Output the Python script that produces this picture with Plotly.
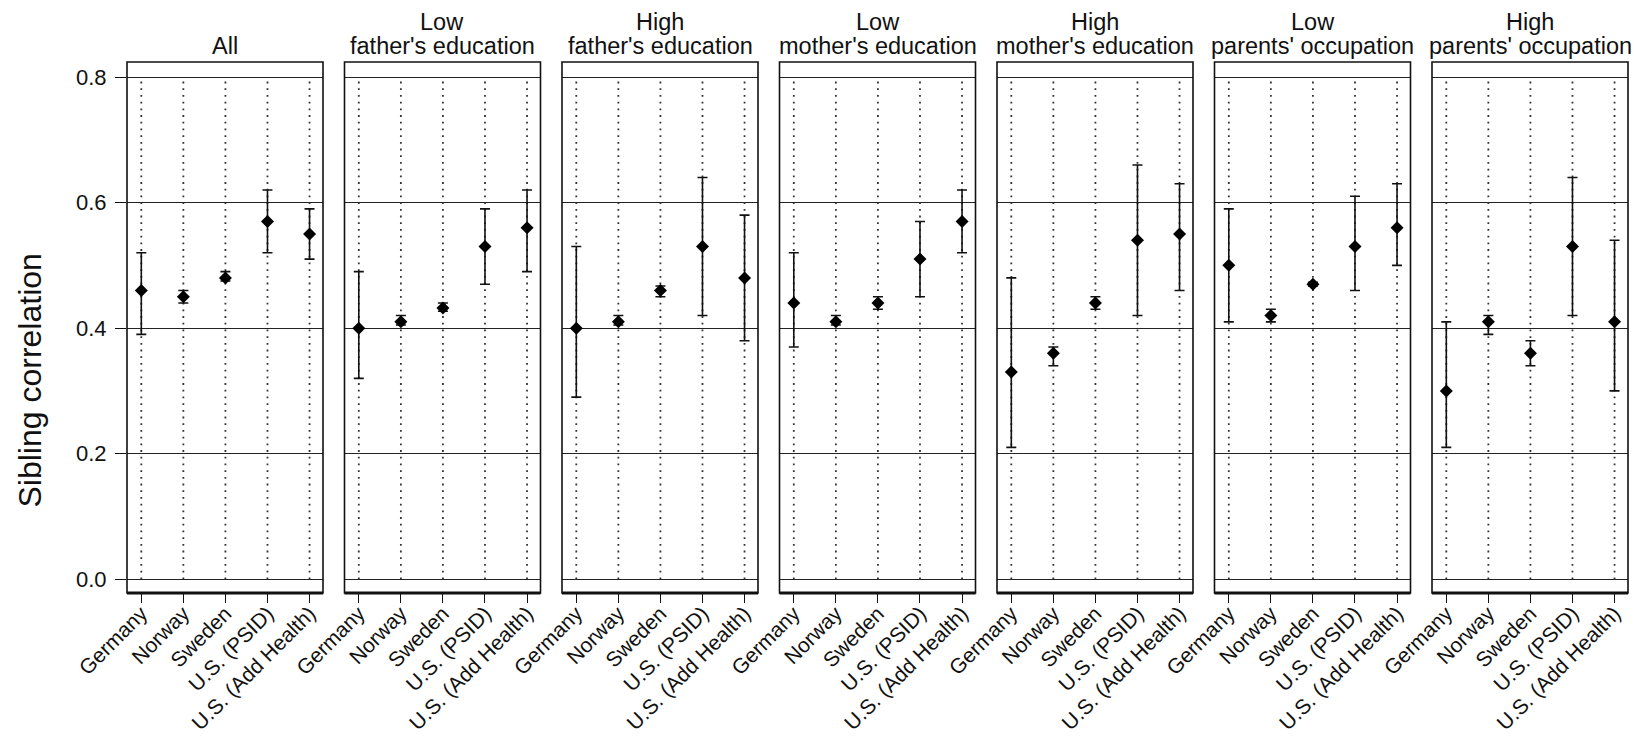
import plotly.graph_objects as go

# ---------------- data ----------------
categories = ["Germany", "Norway", "Sweden", "U.S. (PSID)", "U.S. (Add Health)"]

title_line1 = ["", "Low", "High", "Low", "High", "Low", "High"]
title_line2 = ["All", "father's education", "father's education",
               "mother's education", "mother's education",
               "parents' occupation", "parents' occupation"]

est_all = [0.46, 0.45, 0.48, 0.57, 0.55]
lo_all = [0.39, 0.44, 0.475, 0.52, 0.51]
hi_all = [0.52, 0.46, 0.49, 0.62, 0.59]

est_low_father = [0.40, 0.41, 0.432, 0.53, 0.56]
lo_low_father = [0.32, 0.405, 0.427, 0.47, 0.49]
hi_low_father = [0.49, 0.42, 0.44, 0.59, 0.62]

est_high_father = [0.40, 0.41, 0.46, 0.53, 0.48]
lo_high_father = [0.29, 0.405, 0.45, 0.42, 0.38]
hi_high_father = [0.53, 0.42, 0.467, 0.64, 0.58]

est_low_mother = [0.44, 0.41, 0.44, 0.51, 0.57]
lo_low_mother = [0.37, 0.405, 0.43, 0.45, 0.52]
hi_low_mother = [0.52, 0.42, 0.45, 0.57, 0.62]

est_high_mother = [0.33, 0.36, 0.44, 0.54, 0.55]
lo_high_mother = [0.21, 0.34, 0.43, 0.42, 0.46]
hi_high_mother = [0.48, 0.37, 0.45, 0.66, 0.63]

est_low_occ = [0.50, 0.42, 0.47, 0.53, 0.56]
lo_low_occ = [0.41, 0.41, 0.467, 0.46, 0.50]
hi_low_occ = [0.59, 0.43, 0.473, 0.61, 0.63]

est_high_occ = [0.30, 0.41, 0.36, 0.53, 0.41]
lo_high_occ = [0.21, 0.39, 0.34, 0.42, 0.30]
hi_high_occ = [0.41, 0.42, 0.38, 0.64, 0.54]

y_ticks = [0.0, 0.2, 0.4, 0.6, 0.8]
y_ticktext = ["0.0", "0.2", "0.4", "0.6", "0.8"]

estimates = [est_all, est_low_father, est_high_father, est_low_mother,
             est_high_mother, est_low_occ, est_high_occ]
lowers = [lo_all, lo_low_father, lo_high_father, lo_low_mother,
          lo_high_mother, lo_low_occ, lo_high_occ]
uppers = [hi_all, hi_low_father, hi_high_father, hi_low_mother,
          hi_high_mother, hi_low_occ, hi_high_occ]

# ---------------- layout geometry ----------------
W, H = 1634, 739
ML, MR, MT, MB = 127, 6, 62, 146
PW = W - ML - MR          # plot area width
PH = H - MT - MB          # plot area height
step = 217.5
panel_w = 196

FONT = "Liberation Sans, Arial, Helvetica, sans-serif"
INK = "#111111"

fig = go.Figure()
layout = dict(
    width=W, height=H,
    margin=dict(l=ML, r=MR, t=MT, b=MB, pad=0),
    paper_bgcolor="white", plot_bgcolor="white",
    showlegend=False,
    font=dict(family=FONT, color=INK),
)

shapes = []
annotations = []

for i in range(7):
    xa = "x" if i == 0 else f"x{i+1}"
    xkey = "xaxis" if i == 0 else f"xaxis{i+1}"
    d0 = i * step / PW
    d1 = (i * step + panel_w) / PW
    layout[xkey] = dict(
        domain=[d0, d1], anchor="y", type="category",
        categoryorder="array", categoryarray=categories,
        range=[-0.34, 4.32],
        showgrid=False, zeroline=False, showline=False,
        ticks="outside", ticklen=9, tickwidth=1.3, tickcolor=INK,
        tickangle=-45, tickfont=dict(size=21, family=FONT, color=INK),
        ticklabelstandoff=-10,
        fixedrange=True, automargin=False,
    )

    # dotted vertical reference lines at each category
    dx, dy = [], []
    for c in categories:
        dx += [c, c, None]
        dy += [y_ticks[0], y_ticks[-1], None]
    fig.add_trace(go.Scatter(
        x=dx, y=dy, xaxis=xa, yaxis="y", mode="lines",
        line=dict(color="#333333", width=1.8, dash="1.8px,4.9px"),
        hoverinfo="skip",
    ))

    est = estimates[i]
    up = [u - e for u, e in zip(uppers[i], est)]
    dn = [e - l for e, l in zip(est, lowers[i])]
    fig.add_trace(go.Scatter(
        x=categories, y=est, xaxis=xa, yaxis="y", mode="markers",
        marker=dict(symbol="diamond", size=10, color="black"),
        error_y=dict(type="data", symmetric=False, array=up, arrayminus=dn,
                     color="#111111", thickness=1.6, width=5),
    ))

    # panel border
    shapes.append(dict(type="rect", xref=f"{xa} domain", yref="y domain",
                       x0=0, x1=1, y0=0, y1=1,
                       line=dict(color=INK, width=1.6), layer="above"))
    shapes.append(dict(type="line", xref=f"{xa} domain", yref="y domain",
                       x0=0, x1=1, y0=0, y1=0,
                       line=dict(color=INK, width=3), layer="above"))

    cx = (d0 + d1) / 2
    if title_line1[i]:
        annotations.append(dict(
            text=title_line1[i], xref="paper", yref="paper",
            x=cx, y=(H - MB - 22) / PH, xanchor="center", yanchor="middle",
            showarrow=False, font=dict(size=23.5, family=FONT, color=INK)))
    annotations.append(dict(
        text=title_line2[i], xref="paper", yref="paper",
        x=cx, y=(H - MB - 46) / PH, xanchor="center", yanchor="middle",
        showarrow=False, font=dict(size=23.5, family=FONT, color=INK)))

annotations.append(dict(
    text="Sibling correlation", xref="paper", yref="paper",
    x=(29.5 - ML) / PW, y=(H - MB - 381) / PH,
    xanchor="center", yanchor="middle", textangle=-90,
    showarrow=False, font=dict(size=32, family=FONT, color=INK)))

layout["yaxis"] = dict(
    domain=[0, 1], anchor="x", range=[-0.022, 0.824],
    tickvals=y_ticks, ticktext=y_ticktext,
    showgrid=True, gridcolor="#222222", gridwidth=1.2,
    zeroline=False, showline=False,
    ticks="outside", ticklen=11, tickwidth=1.3, tickcolor=INK,
    tickfont=dict(size=22, family=FONT, color=INK),
    ticklabelstandoff=4,
    fixedrange=True, automargin=False,
)
layout["shapes"] = shapes
layout["annotations"] = annotations

fig.update_layout(**layout)
fig.write_html(
    "out.html",
    config={"responsive": False, "displayModeBar": False},
    post_script="document.documentElement.style.margin='0';"
                "document.body.style.margin='0';document.body.style.padding='0';"
                "document.body.style.overflow='hidden';",
)
